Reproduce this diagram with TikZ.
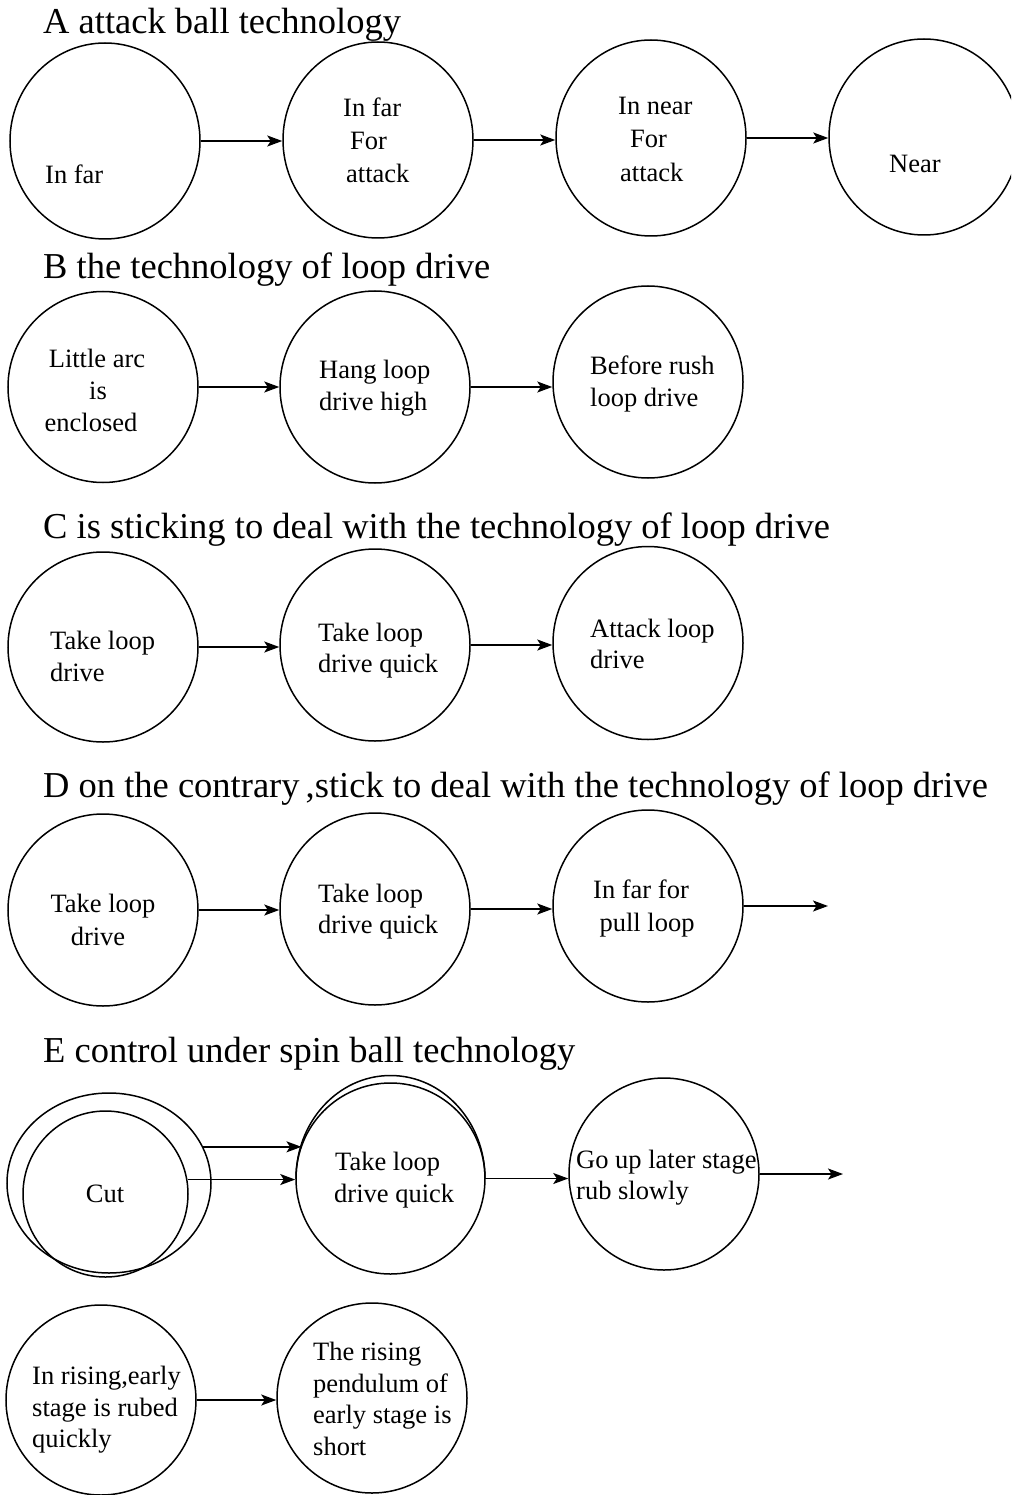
\documentclass[tikz,border=0pt]{standalone}
\usepackage{fontspec}
\setmainfont{Liberation Serif}
\usetikzlibrary{shapes.geometric,arrows.meta}
\tikzset{
  circ/.style={draw, ellipse, inner sep=0pt, line width=1.5pt, minimum width=190pt, minimum height=192pt},
  arr/.style={line width=1.5pt, -{Stealth[length=15pt,width=11pt,inset=3.5pt]}},
  lw/.style={inner sep=0pt, anchor=base west, font=\fontsize{26.5}{32}\selectfont},
  lc/.style={inner sep=0pt, anchor=base, font=\fontsize{26.5}{32}\selectfont},
  ttl/.style={inner sep=0pt, anchor=base west, font=\fontsize{36.5}{40}\selectfont},
}
\begin{document}
\begin{tikzpicture}[x=1pt,y=-1pt]
\useasboundingbox (0,0) rectangle (1011,1495);
\clip (0,0) rectangle (1011,1495);

% ---------- titles
\node[ttl] (tA) at (43,34) {A attack ball technology};
\node[ttl] (tB) at (43,279) {B the technology of loop drive};
\node[ttl] (tC) at (43,538) {C is sticking to deal with the technology of loop drive};
\node[ttl] (tD) at (43,797) {D on the contrary\,,stick to deal with the technology of loop drive};
\node[ttl] (tE) at (43,1062) {E control under spin ball technology};

% ---------- row A
\node[circ, minimum height=196pt] (a1) at (105,141) {};
\node[circ, minimum height=196pt] (a2) at (378,140) {};
\node[circ, minimum height=196pt] (a3) at (651,138) {};
\node[circ, minimum height=196pt] (a4) at (924,137) {};
\node[lw] (a1t1) at (45,184) {In far};
\node[lw] (a2t1) at (343,117) {In far};
\node[lw] (a2t2) at (350,150) {For};
\node[lw] (a2t3) at (346,183) {attack};
\node[lw] (a3t1) at (618,115) {In near};
\node[lw] (a3t2) at (630,148) {For};
\node[lw] (a3t3) at (620,182) {attack};
\node[lw] (a4t1) at (889,173) {Near};
\draw[arr] (a1.east) -- (a1.east -| a2.west);
\draw[arr] (a2.east) -- (a2.east -| a3.west);
\draw[arr] (a3.east) -- (a3.east -| a4.west);

% ---------- row B
\node[circ, minimum height=191pt] (b1) at (103,387) {};
\node[circ] (b2) at (375,387) {};
\node[circ] (b3) at (648,382) {};
\node[lc] (b1t1) at (97,367) {Little arc};
\node[lc] (b1t2) at (98,399) {is};
\node[lc] (b1t3) at (91,431) {enclosed};
\node[lw] (b2t1) at (319,378) {Hang loop};
\node[lw] (b2t2) at (319,410) {drive high};
\node[lw] (b3t1) at (590,374) {Before rush};
\node[lw] (b3t2) at (590,406) {loop drive};
\draw[arr] (b1.east) -- (b1.east -| b2.west);
\draw[arr] (b2.east) -- (b2.east -| b3.west);

% ---------- row C
\node[circ, minimum height=190pt] (c1) at (103,647) {};
\node[circ] (c2) at (375,645) {};
\node[circ, minimum height=193pt] (c3) at (648,643) {};
\node[lw] (c1t1) at (50,649) {Take loop};
\node[lw] (c1t2) at (50,681) {drive};
\node[lw] (c2t1) at (318,641) {Take loop};
\node[lw] (c2t2) at (318,672) {drive quick};
\node[lw] (c3t1) at (590,637) {Attack loop};
\node[lw] (c3t2) at (590,668) {drive};
\draw[arr] (c1.east) -- (c1.east -| c2.west);
\draw[arr] (c2.east) -- (c2.east -| c3.west);

% ---------- row D
\node[circ] (d1) at (103,910) {};
\node[circ] (d2) at (375,909) {};
\node[circ] (d3) at (648,906) {};
\coordinate (dend) at (828,906);
\node[lc] (d1t1) at (103,912) {Take loop};
\node[lc] (d1t2) at (98,945) {drive};
\node[lw] (d2t1) at (318,902) {Take loop};
\node[lw] (d2t2) at (318,933) {drive quick};
\node[lc] (d3t1) at (641,898) {In far for};
\node[lc] (d3t2) at (647,931) {pull loop};
\draw[arr] (d1.east) -- (d1.east -| d2.west);
\draw[arr] (d2.east) -- (d2.east -| d3.west);
\draw[arr] (d3.east) -- (d3.east -| dend);

% ---------- row E
\node[circ, minimum width=204pt, minimum height=180pt] (e1o) at (109,1183) {};
\node[circ, minimum width=165pt, minimum height=166pt] (e1i) at (105.5,1194) {};
\node[circ, minimum width=189pt, minimum height=191pt] (e2) at (390.5,1178.5) {};
\begin{scope}
  \clip (e2.west) rectangle (e2.east |- 0,1000);
  \draw[line width=1.5pt] (e2.center) ellipse [x radius=94.5, y radius=103];
\end{scope}
\node[circ] (e3) at (664,1174) {};
\coordinate (eend) at (843,1174);
\node[lc] (e1t1) at (105,1202) {Cut};
\node[lw] (e2t1) at (335,1170) {Take loop};
\node[lw] (e2t2) at (334,1202) {drive quick};
\node[lw] (e3t1) at (576,1168) {Go up later stage};
\node[lw] (e3t2) at (576,1199) {rub slowly};
\draw[arr] (e1o.21) -- (e1o.21 -| e2.159);
\draw[arr] (e1i.10) -- (e1i.10 -| e2.west);
\draw[arr] (e2.east) -- (e2.east -| e3.west);
\draw[arr] (e3.east) -- (e3.east -| eend);

% ---------- row F
\node[circ, minimum height=190pt] (f1) at (101,1400) {};
\node[circ, minimum height=190pt] (f2) at (372,1398) {};
\node[lw] (f1t1) at (32,1384) {In rising,early};
\node[lw] (f1t2) at (32,1416) {stage is rubed};
\node[lw] (f1t3) at (32,1447) {quickly};
\node[lw] (f2t1) at (313,1360) {The rising};
\node[lw] (f2t2) at (313,1392) {pendulum of};
\node[lw] (f2t3) at (313,1423) {early stage is};
\node[lw] (f2t4) at (313,1455) {short};
\draw[arr] (f1.east) -- (f1.east -| f2.west);
\end{tikzpicture}
\end{document}
